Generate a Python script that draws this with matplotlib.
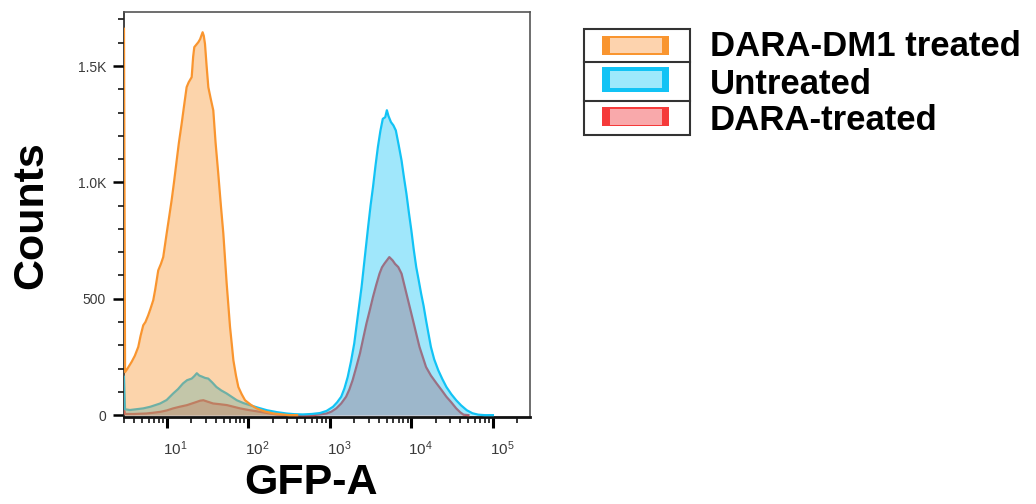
import numpy as np
import matplotlib
matplotlib.use("Agg")
import matplotlib.pyplot as plt
from matplotlib.patches import Rectangle
import matplotlib.transforms as mtransforms
from matplotlib.ticker import LogLocator, FixedLocator, MultipleLocator, FuncFormatter

plt.rcParams['font.family'] = ['Liberation Sans', 'DejaVu Sans']
plt.rcParams['mathtext.fontset'] = 'custom'
plt.rcParams['mathtext.rm'] = 'Liberation Sans'
plt.rcParams['mathtext.it'] = 'Liberation Sans'

# ---------------- data (log10 of GFP-A intensity, counts per bin) ----------------
dm1_log = [0.477, 0.49, 0.52, 0.571, 0.61, 0.652, 0.68, 0.713, 0.74, 0.774, 0.80, 0.836, 0.86,
           0.897, 0.93, 0.958, 1.0, 1.03, 1.061, 1.09, 1.123, 1.15, 1.184, 1.21, 1.245, 1.27,
           1.307, 1.325, 1.339, 1.36, 1.388, 1.41, 1.441, 1.455, 1.47, 1.49, 1.511, 1.54,
           1.572, 1.60, 1.633, 1.665, 1.695, 1.716, 1.736, 1.757, 1.777, 1.80, 1.818, 1.85,
           1.879, 1.92, 1.961, 2.03, 2.10, 2.2, 2.31, 2.42, 2.5, 2.6]
dm1_counts = [1660, 185, 200, 229, 255, 293, 340, 386, 400, 429, 455, 494, 540,
              622, 650, 679, 780, 850, 923, 1000, 1094, 1170, 1252, 1320, 1409, 1430,
              1452, 1540, 1581, 1590, 1602, 1615, 1645, 1630, 1595, 1500, 1409, 1360,
              1309, 1170, 1037, 900, 780, 670, 565, 470, 379, 300, 236, 170,
              121, 90, 64, 45, 29, 16, 7, 3, 0, 0]

untr_log = [0.477, 0.49, 0.55, 0.62, 0.713, 0.80, 0.92, 1.0, 1.08, 1.14, 1.2, 1.25, 1.307,
            1.34, 1.37, 1.40, 1.43, 1.47, 1.51, 1.56, 1.61, 1.67, 1.736, 1.80, 1.86, 1.94,
            2.02, 2.12, 2.23, 2.35, 2.47, 2.57, 2.67, 2.78, 2.88, 2.96, 3.04, 3.09, 3.14,
            3.18, 3.22, 3.26, 3.30, 3.345, 3.39, 3.43, 3.47, 3.50, 3.53, 3.56, 3.59, 3.62,
            3.65, 3.68, 3.70, 3.72, 3.75, 3.78, 3.81, 3.845, 3.88, 3.91, 3.94, 3.97, 4.0,
            4.03, 4.06, 4.09, 4.12, 4.15, 4.18, 4.21, 4.24, 4.28, 4.33, 4.38, 4.43, 4.49,
            4.55, 4.61, 4.68, 4.75, 4.82, 4.9, 5.0]
untr_counts = [165, 25, 22, 25, 29, 36, 50, 65, 93, 112, 136, 150, 157,
               168, 180, 170, 166, 160, 157, 140, 121, 106, 93, 78, 64, 52,
               43, 32, 21, 13, 7, 4, 3, 5, 9, 18, 36, 55, 79,
               115, 164, 230, 308, 430, 551, 680, 808, 900, 980, 1070, 1152, 1220,
               1273, 1280, 1310, 1285, 1259, 1245, 1223, 1160, 1094, 1020, 951, 870, 794,
               710, 636, 580, 522, 470, 408, 350, 293, 240, 193, 155, 121, 90,
               64, 42, 21, 8, 2, 0, 0]

dara_log = [0.477, 0.49, 0.6, 0.75, 0.83, 0.92, 1.0, 1.08, 1.16, 1.25, 1.31, 1.37, 1.41,
            1.45, 1.5, 1.57, 1.65, 1.74, 1.82, 1.9, 2.02, 2.15, 2.25, 2.35, 2.5, 2.65,
            2.8, 2.96, 3.02, 3.08, 3.14, 3.2, 3.24, 3.28, 3.32, 3.37, 3.41, 3.45, 3.49,
            3.53, 3.57, 3.61, 3.64, 3.67, 3.70, 3.73, 3.75, 3.77, 3.80, 3.84, 3.88, 3.91,
            3.94, 3.98, 4.02, 4.06, 4.1, 4.14, 4.18, 4.24, 4.31, 4.37, 4.43, 4.49, 4.55,
            4.6, 4.64, 4.7]
dara_counts = [30, 5, 5, 7, 10, 14, 20, 29, 36, 43, 50, 57, 62,
               64, 58, 50, 47, 43, 36, 29, 21, 14, 8, 3, 1, 0,
               0, 7, 15, 29, 50, 79, 110, 150, 200, 265, 330, 394, 450,
               508, 560, 608, 635, 651, 665, 679, 672, 665, 650, 636, 608, 565,
               522, 465, 408, 350, 293, 250, 207, 170, 136, 108, 79, 55, 29,
               12, 2, 0]

series_names = ["DARA-DM1 treated", "Untreated", "DARA-treated"]
line_colors = ["#F9952F", "#12C3F5", "#F53A3A"]
legend_fill = ["#FDD3AE", "#9EE9FC", "#F9A9AB"]

x_major = [10, 100, 1000, 10000, 100000]
y_major = [0, 500, 1000, 1500]
y_major_labels = ["0", "500", "1.0K", "1.5K"]

W, H = 1036, 504
fig = plt.figure(figsize=(W / 100, H / 100), dpi=100)
ax = fig.add_axes([124 / W, 1 - 417 / H, (530 - 124) / W, (417 - 12) / H])

data = [(dm1_log, dm1_counts), (untr_log, untr_counts), (dara_log, dara_counts)]
# draw order: DARA-treated at bottom, Untreated middle, DARA-DM1 on top
for z, idx in enumerate([2, 1, 0]):
    lg, cnt = data[idx]
    x = 10 ** np.array(lg)
    y = np.array(cnt, dtype=float)
    ax.fill_between(x, 0, y, color=line_colors[idx], alpha=0.4, linewidth=0, zorder=2 + 2 * z)
    ax.plot(x, y, color=line_colors[idx], lw=1.6, zorder=3 + 2 * z)

ax.set_xscale('log')
ax.set_xlim(3.0, 2.85e5)
ax.set_ylim(-8, 1732)

ax.xaxis.set_major_locator(FixedLocator(x_major))
ax.xaxis.set_minor_locator(LogLocator(base=10, subs=np.arange(2, 10), numticks=20))
ax.xaxis.set_major_formatter(FuncFormatter(lambda v, p: r"$10^{%d}$" % round(np.log10(v))))
ax.yaxis.set_major_locator(FixedLocator(y_major))
ax.yaxis.set_major_formatter(FuncFormatter(lambda v, p: y_major_labels[y_major.index(int(round(v)))] if int(round(v)) in y_major else ""))
ax.yaxis.set_minor_locator(MultipleLocator(100))

tick_col = "#3a3a3a"
ax.tick_params(axis='y', which='major', length=8, width=1.8, pad=5, labelsize=10, labelcolor=tick_col)
ax.tick_params(axis='y', which='minor', length=4.5, width=1.1)
ax.tick_params(axis='x', which='major', length=8, width=2.2, pad=8, labelsize=11, labelcolor=tick_col)
ax.tick_params(axis='x', which='minor', length=4.5, width=1.1)

offset = mtransforms.ScaledTranslation(9 / 100, 0, fig.dpi_scale_trans)
for lab in ax.get_xticklabels():
    lab.set_transform(lab.get_transform() + offset)

ax.spines['left'].set_linewidth(1.2)
ax.spines['left'].set_color('#222222')
ax.spines['bottom'].set_linewidth(2.0)
ax.spines['bottom'].set_color('#111111')
for s in ['top', 'right']:
    ax.spines[s].set_linewidth(1.2)
    ax.spines[s].set_color('#555555')

# ---------------- overlay (pixel coordinates) for labels and legend ----------------
ov = fig.add_axes([0, 0, 1, 1], zorder=10)
ov.set_xlim(0, W)
ov.set_ylim(H, 0)
ov.axis('off')

ov.text(31, 215, "Counts", rotation=90, ha='center', va='center', fontsize=31, fontweight='bold')
ov.text(311, 503.5, "GFP-A", ha='center', va='bottom', fontsize=31, fontweight='bold')

# legend box
ov.add_patch(Rectangle((583.7, 28.7), 106, 106.6, fill=False, edgecolor='#333333', lw=1.5))
ov.plot([583.7, 689.7], [62.3, 62.3], color='#333333', lw=1.5)
ov.plot([583.7, 689.7], [101.3, 101.3], color='#333333', lw=1.5)

patch_outer = [(36.3, 18.4), (67.3, 24.7), (107.3, 19.0)]
patch_inner = [(38.0, 15.0), (71.3, 16.7), (109.0, 15.7)]
baselines = [56.5, 93.5, 130.5]
for i in range(3):
    oy, oh = patch_outer[i]
    iy, ih = patch_inner[i]
    ov.add_patch(Rectangle((602.3, oy), 66.7, oh, facecolor=line_colors[i], edgecolor='none'))
    ov.add_patch(Rectangle((610.3, iy), 51.3, ih, facecolor=legend_fill[i], edgecolor='none'))
    ov.text(710, baselines[i], series_names[i], ha='left', va='baseline', fontsize=25, fontweight='bold')

fig.savefig("out.png", dpi=100)
